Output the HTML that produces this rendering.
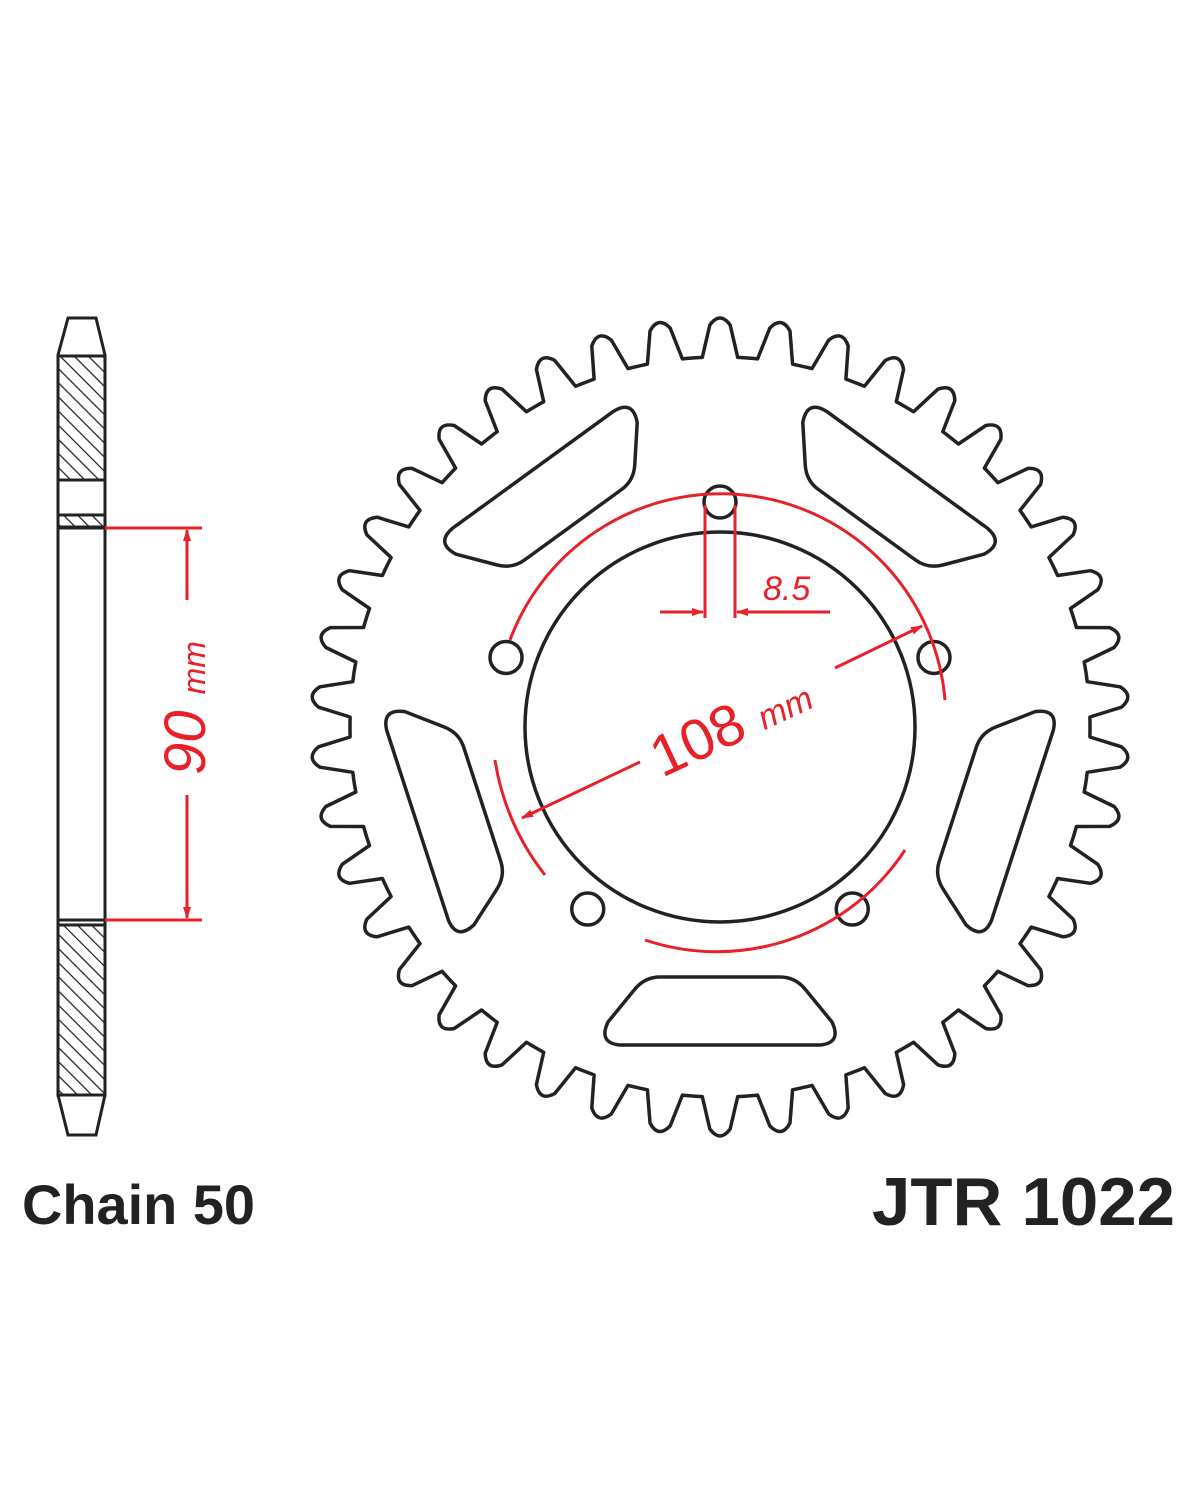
<!DOCTYPE html>
<html><head><meta charset="utf-8"><style>
html,body{margin:0;padding:0;background:#fff;width:1200px;height:1500px;overflow:hidden}
svg{display:block}
</style></head><body>
<svg id="s" width="1200" height="1500" viewBox="0 0 1200 1500" xmlns="http://www.w3.org/2000/svg">
<defs>
<pattern id="h" patternUnits="userSpaceOnUse" width="10" height="10" patternTransform="rotate(-45)">
<rect width="10" height="10" fill="#fff"/><line x1="0" y1="0" x2="0" y2="10" stroke="#222" stroke-width="2.5"/>
</pattern>
<marker id="a" markerWidth="12" markerHeight="8" refX="11" refY="4" orient="auto" markerUnits="userSpaceOnUse"><path d="M0,0 L12,4 L0,8 z" fill="#e8202a"/></marker>
</defs>
<g stroke="#222" stroke-width="3" fill="none">
<path d="M58,355 L68,318 L96,318 L105,355 L105,1095 L96,1135 L68,1135 L58,1095 Z" fill="#fff"/>
<rect x="58" y="356" width="47" height="124" fill="url(#h)"/>
<rect x="58" y="515" width="47" height="12" fill="url(#h)"/>
<rect x="58" y="925" width="47" height="170" fill="url(#h)"/>
<line x1="58" y1="528" x2="105" y2="528"/>
<line x1="58" y1="920" x2="105" y2="920"/>
</g>
<g stroke="#e8202a" stroke-width="3" fill="none">
<line x1="105" y1="528" x2="202" y2="528"/>
<line x1="105" y1="920" x2="202" y2="920"/>
<line x1="187" y1="600" x2="187" y2="530" marker-end="url(#a)"/>
<line x1="187" y1="795" x2="187" y2="918" marker-end="url(#a)"/>
</g>
<text transform="translate(205,775) rotate(-90)" font-family="Liberation Sans,sans-serif" font-size="58" fill="#e8202a" font-style="italic">90 <tspan font-size="32">mm</tspan></text>
<g id="spr" stroke="#222" stroke-width="3.5" fill="none" stroke-linejoin="round"></g>
<g stroke="#e8202a" stroke-width="3" fill="none">
<path d="M510,640 A225,225 0 0 1 945,700"/>
<path d="M645,940 A225,225 0 0 0 905,850"/>
<path d="M495,760 A245,245 0 0 0 545,875"/>
<line x1="640" y1="762" x2="522" y2="818" marker-end="url(#a)"/>
<line x1="835" y1="668" x2="922" y2="626" marker-end="url(#a)"/>
<line x1="705" y1="505" x2="705" y2="618"/>
<line x1="735" y1="505" x2="735" y2="618"/>
<line x1="660" y1="612" x2="703" y2="612" marker-end="url(#a)"/>
<line x1="830" y1="612" x2="737" y2="612" marker-end="url(#a)"/>
</g>
<text transform="translate(662,778) rotate(-25)" font-family="Liberation Sans,sans-serif" font-size="58" fill="#e8202a">108 <tspan font-size="34" font-style="italic">mm</tspan></text>
<text x="763" y="600" font-family="Liberation Sans,sans-serif" font-size="34" font-style="italic" fill="#e8202a">8.5</text>
<text x="22" y="1224" font-family="Liberation Sans,sans-serif" font-size="56" font-weight="bold" fill="#222" textLength="233" lengthAdjust="spacingAndGlyphs">Chain 50</text>
<text x="872" y="1225" font-family="Liberation Sans,sans-serif" font-size="68" font-weight="bold" fill="#222" textLength="303" lengthAdjust="spacingAndGlyphs">JTR 1022</text>
</svg>
<script>
var g=document.getElementById('spr'),cx=720,cy=727,N=42,ro=410,rr=370,d='';
for(var i=0;i<N;i++){var t=2*Math.PI*i/N,s=2*Math.PI/N;
function p(a,r){return (cx+r*Math.sin(a)).toFixed(1)+','+(cy-r*Math.cos(a)).toFixed(1);}
var a0=t-s*0.5;
if(i==0)d+='M'+p(a0,rr);
d+=' A'+rr+','+rr+' 0 0 1 '+p(a0+s*0.18,rr);
d+=' L'+p(t-s*0.17,ro-8)+' Q'+p(t,ro+6)+' '+p(t+s*0.17,ro-8);
d+=' L'+p(t+s*0.32,rr);
d+=' A'+rr+','+rr+' 0 0 1 '+p(t+s*0.5,rr);}
d+='Z';
var h='<path d="'+d+'"/>';
h+='<circle cx="720" cy="727" r="195"/>';
for(var k=0;k<5;k++){var a=k*72*Math.PI/180;h+='<circle cx="'+(cx+225*Math.sin(a))+'" cy="'+(cy-225*Math.cos(a))+'" r="16"/>';}
var slot='M-60,250 L60,250 Q75,250 85,262 L112,295 Q122,316 100,318 L-100,318 Q-122,316 -112,295 L-85,262 Q-75,250 -60,250 Z';
for(var k=0;k<5;k++){h+='<path transform="translate(720,727) rotate('+(k*72)+')" d="'+slot+'"/>';}
g.innerHTML=h;
</script>
</body></html>
